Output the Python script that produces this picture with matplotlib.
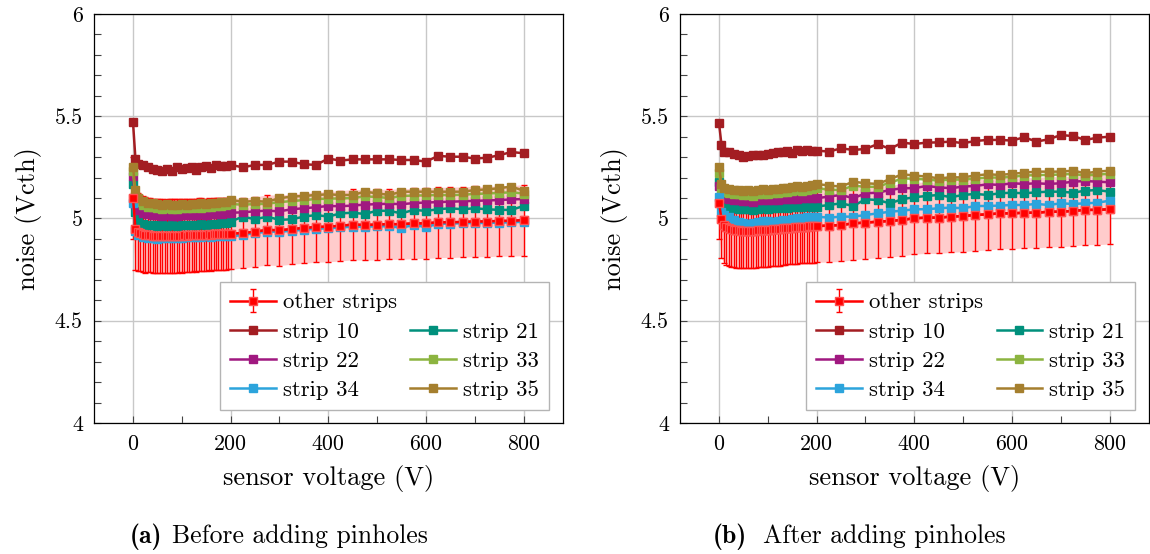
import matplotlib.pyplot as plt
from matplotlib.ticker import MultipleLocator

plt.rcParams['font.family'] = 'cmr10'
plt.rcParams['axes.formatter.use_mathtext'] = True
plt.rcParams['mathtext.fontset'] = 'cm'

# voltage points: red (other strips) every 5 V up to 200 V, single strips every 10 V
v_red = [0, 5, 10, 15, 20, 25, 30, 35, 40, 45, 50, 55, 60, 65, 70, 75, 80, 85, 90, 95,
         100, 105, 110, 115, 120, 125, 130, 135, 140, 145, 150, 155, 160, 165, 170, 175,
         180, 185, 190, 195, 200,
         225, 250, 275, 300, 325, 350, 375, 400, 425, 450, 475, 500, 525, 550, 575, 600,
         625, 650, 675, 700, 725, 750, 775, 800]
v_strip = [0, 5, 10, 20, 30, 40, 50, 60, 70, 80, 90, 100, 110, 120, 130, 140, 150, 160,
           170, 180, 190, 200,
           225, 250, 275, 300, 325, 350, 375, 400, 425, 450, 475, 500, 525, 550, 575, 600,
           625, 650, 675, 700, 725, 750, 775, 800]

strip_names = ['strip 10', 'strip 21', 'strip 22', 'strip 33', 'strip 34', 'strip 35']
strip_colors = ['#a31d22', '#00907c', '#a01880', '#8cb440', '#2ca4dc', '#a57f2e']

# (a) before adding pinholes
red_a = [5.10, 4.95, 4.935, 4.93, 4.925, 4.92, 4.92, 4.918, 4.915, 4.915, 4.915, 4.913,
         4.915, 4.912, 4.915, 4.913, 4.915, 4.914, 4.915, 4.916, 4.915, 4.917, 4.916, 4.918,
         4.917, 4.919, 4.918, 4.92, 4.92, 4.921, 4.92, 4.922, 4.921, 4.923, 4.922, 4.924,
         4.923, 4.925, 4.924, 4.926, 4.926,
         4.928, 4.935, 4.944, 4.942, 4.948, 4.953, 4.958, 4.960, 4.964, 4.970, 4.968, 4.970,
         4.972, 4.972, 4.976, 4.976, 4.981, 4.981, 4.983, 4.985, 4.985, 4.988, 4.988, 4.992]
err_a = [0.20, 0.20, 0.19, 0.185, 0.185, 0.185, 0.18, 0.18, 0.18, 0.18, 0.18, 0.18,
         0.18, 0.18, 0.18, 0.18, 0.18, 0.18, 0.18, 0.18, 0.18, 0.18, 0.18, 0.178, 0.178,
         0.178, 0.178, 0.178, 0.178, 0.176, 0.176, 0.176, 0.176, 0.176, 0.176, 0.175, 0.175,
         0.175, 0.175, 0.175, 0.175,
         0.17, 0.17, 0.172, 0.172, 0.172, 0.172, 0.172, 0.172, 0.172, 0.172, 0.172, 0.172,
         0.172, 0.172, 0.172, 0.172, 0.172, 0.172, 0.172, 0.172, 0.172, 0.172, 0.172, 0.174]
strips_a = [
    [5.47, 5.29, 5.265, 5.26, 5.25, 5.24, 5.235, 5.23, 5.24, 5.23, 5.25, 5.24, 5.245, 5.25,
     5.235, 5.25, 5.255, 5.245, 5.26, 5.255, 5.258, 5.262,
     5.250, 5.262, 5.262, 5.278, 5.278, 5.265, 5.262, 5.293, 5.283, 5.289, 5.289, 5.289,
     5.289, 5.286, 5.286, 5.278, 5.306, 5.302, 5.302, 5.293, 5.297, 5.309, 5.325, 5.319],
    [5.17, 5.03, 4.99, 4.975, 4.97, 4.968, 4.965, 4.966, 4.964, 4.967, 4.965, 4.968, 4.966,
     4.97, 4.968, 4.972, 4.97, 4.974, 4.975, 4.978, 4.98, 4.985,
     5.009, 4.996, 5.009, 4.993, 4.996, 5.009, 5.017, 5.009, 5.025, 5.028, 5.022, 5.038,
     5.037, 5.025, 5.042, 5.037, 5.045, 5.05, 5.045, 5.05, 5.045, 5.042, 5.042, 5.061],
    [5.21, 5.07, 5.04, 5.025, 5.02, 5.018, 5.015, 5.013, 5.015, 5.012, 5.014, 5.016, 5.015,
     5.018, 5.017, 5.02, 5.019, 5.022, 5.02, 5.024, 5.025, 5.028,
     5.03, 5.035, 5.038, 5.035, 5.045, 5.05, 5.055, 5.061, 5.06, 5.063, 5.068, 5.07,
     5.072, 5.07, 5.075, 5.078, 5.08, 5.082, 5.084, 5.086, 5.088, 5.09, 5.093, 5.095],
    [5.23, 5.11, 5.08, 5.065, 5.058, 5.055, 5.05, 5.048, 5.05, 5.047, 5.048, 5.05, 5.052,
     5.05, 5.055, 5.053, 5.057, 5.055, 5.06, 5.062, 5.065, 5.07,
     5.068, 5.07, 5.072, 5.08, 5.085, 5.09, 5.095, 5.097, 5.098, 5.1, 5.108, 5.105,
     5.1, 5.11, 5.112, 5.113, 5.115, 5.114, 5.116, 5.12, 5.122, 5.125, 5.128, 5.122],
    [5.075, 4.94, 4.92, 4.91, 4.905, 4.903, 4.902, 4.903, 4.905, 4.904, 4.906, 4.905, 4.908,
     4.907, 4.91, 4.909, 4.912, 4.911, 4.913, 4.915, 4.914, 4.912,
     4.92, 4.928, 4.936, 4.935, 4.94, 4.945, 4.95, 4.952, 4.956, 4.96, 4.96, 4.962,
     4.962, 4.955, 4.968, 4.958, 4.974, 4.975, 4.977, 4.978, 4.978, 4.98, 4.981, 4.984],
    [5.25, 5.14, 5.10, 5.085, 5.078, 5.075, 5.07, 5.065, 5.07, 5.068, 5.065, 5.07, 5.068,
     5.072, 5.07, 5.075, 5.073, 5.078, 5.075, 5.08, 5.082, 5.09,
     5.082, 5.085, 5.082, 5.099, 5.107, 5.110, 5.115, 5.118, 5.115, 5.115, 5.131, 5.123,
     5.115, 5.131, 5.131, 5.131, 5.131, 5.131, 5.131, 5.139, 5.142, 5.148, 5.156, 5.136],
]

# (b) after adding pinholes
red_b = [5.077, 4.995, 4.968, 4.958, 4.952, 4.948, 4.945, 4.943, 4.942, 4.941, 4.94, 4.94,
         4.94, 4.94, 4.941, 4.941, 4.942, 4.942, 4.943, 4.944, 4.945, 4.946, 4.947, 4.948,
         4.949, 4.95, 4.951, 4.952, 4.953, 4.954, 4.955, 4.956, 4.957, 4.958, 4.958, 4.959,
         4.96, 4.961, 4.962, 4.962, 4.963,
         4.965, 4.968, 4.976, 4.98, 4.984, 4.988, 4.993, 5.001, 5.004, 5.004, 5.009, 5.012,
         5.017, 5.020, 5.025, 5.025, 5.028, 5.028, 5.033, 5.033, 5.037, 5.042, 5.042, 5.045]
err_b = [0.177, 0.19, 0.185, 0.185, 0.185, 0.183, 0.183, 0.183, 0.182, 0.182, 0.182, 0.182,
         0.182, 0.182, 0.182, 0.182, 0.18, 0.18, 0.18, 0.18, 0.18, 0.18, 0.18, 0.18, 0.18,
         0.18, 0.18, 0.18, 0.178, 0.178, 0.178, 0.178, 0.178, 0.178, 0.178, 0.178, 0.178,
         0.178, 0.178, 0.178, 0.178,
         0.178, 0.178, 0.178, 0.176, 0.176, 0.176, 0.176, 0.175, 0.175, 0.175, 0.175, 0.174,
         0.174, 0.174, 0.173, 0.173, 0.172, 0.172, 0.172, 0.171, 0.171, 0.17, 0.17, 0.17]
strips_b = [
    [5.465, 5.36, 5.327, 5.327, 5.315, 5.31, 5.30, 5.305, 5.31, 5.31, 5.312, 5.315, 5.319,
     5.325, 5.327, 5.33, 5.318, 5.335, 5.33, 5.333, 5.332, 5.332,
     5.327, 5.343, 5.335, 5.340, 5.364, 5.340, 5.371, 5.364, 5.371, 5.372, 5.376, 5.368,
     5.379, 5.384, 5.384, 5.381, 5.397, 5.376, 5.387, 5.408, 5.403, 5.384, 5.395, 5.400],
    [5.18, 5.09, 5.065, 5.055, 5.05, 5.048, 5.045, 5.047, 5.043, 5.048, 5.05, 5.046, 5.052,
     5.05, 5.055, 5.053, 5.058, 5.055, 5.058, 5.06, 5.057, 5.058,
     5.066, 5.074, 5.061, 5.094, 5.09, 5.074, 5.094, 5.104, 5.11, 5.115, 5.104, 5.115,
     5.12, 5.115, 5.123, 5.126, 5.123, 5.128, 5.131, 5.131, 5.126, 5.136, 5.139, 5.131],
    [5.16, 5.11, 5.1, 5.095, 5.09, 5.088, 5.085, 5.087, 5.082, 5.088, 5.09, 5.088, 5.092,
     5.09, 5.095, 5.093, 5.097, 5.095, 5.098, 5.1, 5.098, 5.099,
     5.107, 5.115, 5.099, 5.123, 5.126, 5.139, 5.148, 5.148, 5.159, 5.152, 5.148, 5.156,
     5.159, 5.167, 5.164, 5.172, 5.169, 5.172, 5.169, 5.172, 5.18, 5.183, 5.18, 5.177],
    [5.22, 5.15, 5.13, 5.125, 5.12, 5.118, 5.115, 5.117, 5.112, 5.12, 5.122, 5.12, 5.125,
     5.123, 5.128, 5.13, 5.135, 5.138, 5.135, 5.14, 5.145, 5.15,
     5.14, 5.14, 5.16, 5.155, 5.155, 5.175, 5.195, 5.195, 5.19, 5.185, 5.19, 5.19,
     5.195, 5.2, 5.2, 5.203, 5.21, 5.212, 5.213, 5.215, 5.218, 5.21, 5.215, 5.218],
    [5.104, 5.033, 5.015, 5.005, 4.993, 4.985, 4.978, 4.975, 4.98, 4.985, 4.99, 4.988, 4.985,
     4.99, 4.993, 4.99, 4.995, 5.0, 5.003, 5.005, 5.008, 5.009,
     5.004, 5.009, 5.009, 5.017, 5.025, 5.033, 5.038, 5.045, 5.045, 5.05, 5.053, 5.05,
     5.061, 5.061, 5.063, 5.066, 5.066, 5.071, 5.066, 5.074, 5.071, 5.074, 5.077, 5.087],
    [5.25, 5.17, 5.15, 5.145, 5.14, 5.14, 5.135, 5.138, 5.132, 5.14, 5.142, 5.14, 5.145,
     5.143, 5.148, 5.15, 5.155, 5.158, 5.155, 5.16, 5.165, 5.169,
     5.161, 5.156, 5.18, 5.172, 5.169, 5.192, 5.216, 5.21, 5.205, 5.196, 5.201, 5.201,
     5.21, 5.216, 5.213, 5.218, 5.224, 5.229, 5.229, 5.229, 5.234, 5.221, 5.229, 5.234],
]


def draw(ax, red, err, strips):
    low = [m - e for m, e in zip(red, err)]
    high = [m + e for m, e in zip(red, err)]
    ax.fill_between(v_red, low, high, color='#ffcccc', lw=0, zorder=1)
    eb = ax.errorbar(v_red, red, yerr=err, color='red', ecolor='red', elinewidth=1,
                     capsize=2.5, capthick=1, lw=1.8, marker='s', ms=6,
                     mec='#ff5050', zorder=2, label='other strips')
    handles = [eb]
    for vals, name, col in zip(strips, strip_names, strip_colors):
        ln, = ax.plot(v_strip, vals, color=col, lw=1.8, marker='s', ms=6,
                      mec=col, mfc=col, zorder=4, label=name)
        handles.append(ln)
    # red mean line again on top so it stays visible over strip 34
    ax.plot(v_red, red, color='red', lw=1.8, marker='s', ms=6, mec='#ff5050', zorder=5)
    blank, = ax.plot([], [], color='none', label=' ')
    order = [handles[0], handles[1], handles[3], handles[5],
             blank, handles[2], handles[4], handles[6]]
    ax.legend(handles=order, labels=[h.get_label() for h in order], ncol=2,
              loc='lower right', bbox_to_anchor=(0.971, 0.032), borderaxespad=0,
              fancybox=False, framealpha=1, edgecolor='#b4b4b4', fontsize=16.4,
              handlelength=2.0, handletextpad=0.3, columnspacing=0.6,
              labelspacing=0.4, borderpad=0.45)

    ax.set_xlim(-80, 880)
    ax.set_ylim(4, 6)
    ax.xaxis.set_major_locator(MultipleLocator(200))
    ax.xaxis.set_minor_locator(MultipleLocator(100))
    ax.yaxis.set_major_locator(MultipleLocator(0.5))
    ax.yaxis.set_minor_locator(MultipleLocator(0.1))
    ax.set_xticks([0, 200, 400, 600, 800], ['0', '200', '400', '600', '800'])
    ax.set_yticks([4, 4.5, 5, 5.5, 6], ['4', '4.5', '5', '5.5', '6'])
    ax.tick_params(which='both', direction='in', length=5, width=0.8, color='#444444',
                   labelsize=15.8, pad=8)
    ax.grid(True, which='major', color='#c8c8c8', lw=1)
    ax.set_axisbelow(True)
    for s in ax.spines.values():
        s.set_linewidth(0.9)
    ax.set_xlabel('sensor voltage (V)', fontsize=19, labelpad=8)
    ax.set_ylabel('noise (Vcth)', fontsize=19, labelpad=9)


fig = plt.figure(figsize=(11.5, 5.54), dpi=100)
ax1 = fig.add_axes([0.0817, 0.2365, 0.4075, 0.7383])
ax2 = fig.add_axes([0.5913, 0.2365, 0.4075, 0.7383])
draw(ax1, red_a, err_a, strips_a)
draw(ax2, red_b, err_b, strips_b)

fig.text(0.113, 0.02, '(a)', family='cmb10', fontsize=18.5, va='baseline')
fig.text(0.1496, 0.02, 'Before adding pinholes', fontsize=18.5, va='baseline')
fig.text(0.62, 0.02, '(b)', family='cmb10', fontsize=18.5, va='baseline')
fig.text(0.6635, 0.02, 'After adding pinholes', fontsize=18.5, va='baseline')

fig.savefig('out.png', dpi=100)
